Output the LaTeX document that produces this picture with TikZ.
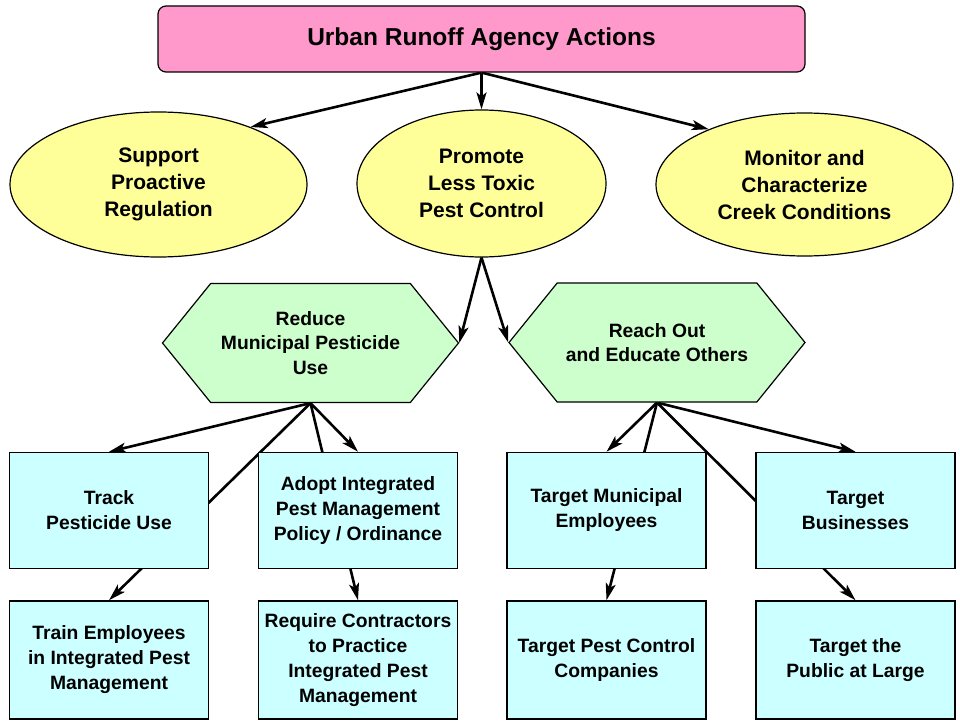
\documentclass[tikz,border=0pt]{standalone}
\usepackage{fontspec}
\setmainfont{Liberation Sans}
\usetikzlibrary{shapes.geometric,shapes.symbols,arrows.meta,backgrounds}
\definecolor{titlepink}{HTML}{FF99CC}
\definecolor{goalyellow}{HTML}{FFFF99}
\definecolor{stratgreen}{HTML}{CCFFCC}
\definecolor{taskcyan}{HTML}{CCFFFF}

\begin{document}
\begin{tikzpicture}[x=1pt,y=-1pt,
    every node/.style={align=center},
    titlebox/.style={draw,line width=1.2pt,fill=titlepink,rounded corners=8pt,minimum width=647pt,minimum height=66pt,font=\fontsize{24.5}{28}\selectfont\bfseries},
    goal/.style={ellipse,draw,line width=1.2pt,fill=goalyellow,inner sep=0pt,font=\fontsize{21}{27}\selectfont\bfseries},
    strategy/.style={signal,signal to=east and west,signal pointer angle=102,draw,line width=1.2pt,fill=stratgreen,minimum width=296pt,minimum height=119pt,inner sep=0pt,font=\fontsize{19.3}{24.5}\selectfont\bfseries},
    task/.style={rectangle,draw,line width=1.5pt,fill=taskcyan,minimum width=199pt,minimum height=116pt,inner sep=0pt,font=\fontsize{19.3}{25}\selectfont\bfseries},
    link/.style={line width=2.6pt,-{Stealth[length=17pt,width=10pt,inset=4pt]}}]
  \useasboundingbox (0,0) rectangle (960,722);
  % top and goals
  \node[titlebox] (urban) at (481.5,39) {Urban Runoff Agency Actions};
  \node[goal,minimum width=297pt,minimum height=145pt] (support) at (158.5,184.5) {Support\\Proactive\\Regulation};
  \node[goal,minimum width=249pt,minimum height=147pt] (promote) at (481.5,183.5) {Promote\\Less Toxic\\Pest Control};
  \node[goal,minimum width=297pt,minimum height=143pt] (monitor) at (804.5,184.5) {Monitor and\\Characterize\\Creek Conditions};
  % strategies
  \node[strategy] (reduce) at (310.5,343) {Reduce\\Municipal Pesticide\\Use};
  \node[strategy] (reach) at (657,342.5) {Reach Out\\and Educate Others};
  % tasks
  \node[task] (track) at (109,510.5) {Track\\Pesticide Use};
  \node[task] (adopt) at (358,510.5) {Adopt Integrated\\Pest Management\\Policy / Ordinance};
  \node[task] (employees) at (606.5,510.5) {Target Municipal\\Employees};
  \node[task] (business) at (855.5,510.5) {Target\\Businesses};
  \node[task,minimum height=118pt] (train) at (109,660) {Train Employees\\in Integrated Pest\\Management};
  \node[task,minimum height=118pt] (require) at (358,660) {Require Contractors\\to Practice\\Integrated Pest\\Management};
  \node[task,minimum height=118pt] (pestco) at (606.5,660) {Target Pest Control\\Companies};
  \node[task,minimum height=118pt] (public) at (855.5,660) {Target the\\Public at Large};
  % connectors, behind the boxes
  \begin{scope}[on background layer]
    \draw[link] (urban.south) -- (support.32);
    \draw[link] (urban.south) -- (promote.north);
    \draw[link] (urban.south) -- (monitor.150);
    \draw[link] (promote.south) -- (reduce.east);
    \draw[link] (promote.south) -- (reach.west);
    \foreach \t in {track,adopt,train,require}
      \draw[link] (reduce.south) -- (\t.north);
    \foreach \t in {employees,business,pestco,public}
      \draw[link] (reach.south) -- (\t.north);
  \end{scope}
\end{tikzpicture}
\end{document}
